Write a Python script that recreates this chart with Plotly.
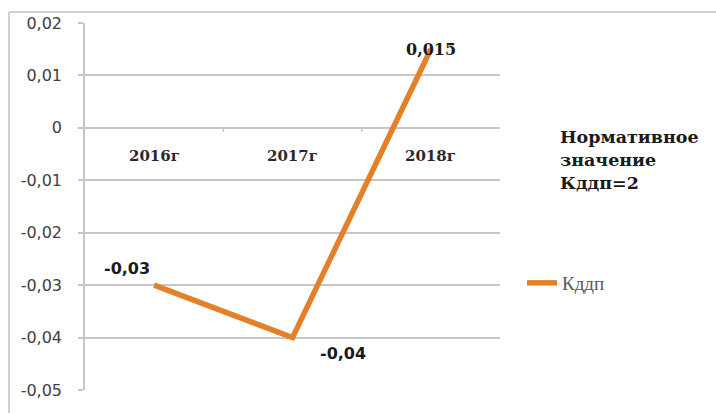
import plotly.graph_objects as go

# Data
years = ["2016г", "2017г", "2018г"]
kddp = [-0.03, -0.04, 0.015]
label_text = ["-0,03", "-0,04", "0,015"]
y_ticks = [0.02, 0.01, 0, -0.01, -0.02, -0.03, -0.04, -0.05]
y_tick_text = ["0,02", "0,01", "0", "-0,01", "-0,02", "-0,03", "-0,04", "-0,05"]
series_name = "Кддп"
note_lines = ["Нормативное", "значение", "Кддп=2"]

# Styling
ORANGE = "#E5802A"
GRID = "#c6c6c6"
W, H = 716, 413
ML, MR, MT, MB = 85, 216, 23, 23
pw, ph = W - ML - MR, H - MT - MB

fig = go.Figure()
fig.add_trace(go.Scatter(
    x=list(range(len(years))), y=kddp, name=series_name,
    mode="lines", line=dict(color=ORANGE, width=5.5),
    showlegend=True,
))

# Value labels placed around each point
label_shift = [(-27, 17), (50, -16), (0, 0)]
label_font = ["DejaVu Sans", "DejaVu Sans", "DejaVu Serif"]
for i, (v, t) in enumerate(zip(kddp, label_text)):
    fig.add_annotation(
        x=i, y=v, text=f"<b>{t}</b>", showarrow=False,
        xshift=label_shift[i][0], yshift=label_shift[i][1],
        font=dict(family=label_font[i], size=16, color="#1a1a1a"),
    )

# Category labels sit just below the zero line
for i, yr in enumerate(years):
    fig.add_annotation(
        x=i, y=0, text=f"<b>{yr}</b>", showarrow=False, yshift=-28,
        font=dict(family="DejaVu Serif", size=15, color="#2b2b2b"),
    )

# Small category-boundary ticks on the zero line
for b in [0.5, 1.5]:
    fig.add_shape(type="line", xref="x", yref="y", x0=b, x1=b, y0=0, y1=-0.0008,
                  line=dict(color=GRID, width=1.5))

# Note text on the right, one line per annotation
for k, line in enumerate(note_lines):
    fig.add_annotation(
        xref="paper", yref="paper", x=(558 - ML) / pw, y=1 - (137 + 23 * k - MT) / ph,
        xanchor="left", yanchor="middle", align="left", showarrow=False,
        text=f"<b>{line}</b>",
        font=dict(family="DejaVu Serif", size=17.5, color="#1a1a1a"),
    )

# Outer chart border (left and top edges)
bx = (9 - ML) / pw
by = 1 + (MT - 12) / ph
fig.add_shape(type="line", xref="paper", yref="paper", x0=bx, x1=bx, y0=-0.2, y1=by,
              line=dict(color="#d0d0d0", width=2))
fig.add_shape(type="line", xref="paper", yref="paper", x0=bx, x1=2, y0=by, y1=by,
              line=dict(color="#d0d0d0", width=2))

fig.update_layout(
    width=W, height=H,
    margin=dict(l=ML, r=MR, t=MT, b=MB),
    paper_bgcolor="white", plot_bgcolor="white",
    legend=dict(x=(522 - ML) / pw, y=1 - (283 - MT) / ph, yanchor="middle", xanchor="left",
                font=dict(family="Liberation Serif", size=19, color="#595959"),
                bgcolor="rgba(0,0,0,0)"),
    xaxis=dict(range=[-0.5, 2.5], showticklabels=False, showgrid=False,
               zeroline=False, showline=False, fixedrange=True),
    yaxis=dict(range=[-0.05, 0.02], tickvals=y_ticks, ticktext=y_tick_text,
               showgrid=True, gridcolor=GRID, gridwidth=1.5, zeroline=False,
               showline=True, linecolor=GRID, linewidth=1.5,
               ticks="outside", ticklen=5, tickcolor=GRID, tickwidth=1.5,
               ticklabelstandoff=13,
               tickfont=dict(family="DejaVu Sans", size=16, color="#404040")),
)

fig.write_html("out.html")
